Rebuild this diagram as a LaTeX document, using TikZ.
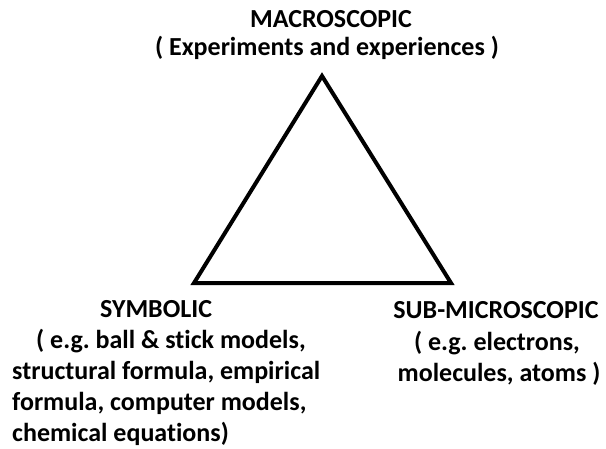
\documentclass[tikz,border=0pt]{standalone}
\usepackage{fontspec}
\setmainfont{Carlito}[Ligatures=NoCommon]
\begin{document}
\frenchspacing
\begin{tikzpicture}[x=1pt,y=-1pt,
  lbl/.style={inner sep=0pt, font=\fontsize{26}{30}\selectfont\bfseries\frenchspacing},
  tri/.style={draw=black, line width=4pt, line join=miter}]
\useasboundingbox (0,0) rectangle (606,448);
% triangle corners
\coordinate (A) at (322,76);
\coordinate (B) at (194,283);
\coordinate (C) at (451,283);
\draw[tri] (A) -- (B) -- (C) -- cycle;
% top label
\node[lbl, anchor=base] (m1) at (331,27) {MACROSCOPIC};
\node[lbl, anchor=base] (m2) at (327,55) {( Experiments and experiences )};
% left label
\node[lbl, anchor=base west] (s1) at (100,317) {SYMBOLIC};
\node[lbl, anchor=base west] (s2) at (36,348) {( e.g. ball \& stick models,};
\node[lbl, anchor=base west] (s3) at (12,379) {structural formula, empirical};
\node[lbl, anchor=base west] (s4) at (12,410) {formula, computer models,};
\node[lbl, anchor=base west] (s5) at (12,441) {chemical equations)};
% right label
\node[lbl, anchor=base] (r1) at (496,318) {SUB-MICROSCOPIC};
\node[lbl, anchor=base] (r2) at (497,350) {( e.g. electrons,};
\node[lbl, anchor=base] (r3) at (499,381) {molecules, atoms )};
\end{tikzpicture}
\end{document}
